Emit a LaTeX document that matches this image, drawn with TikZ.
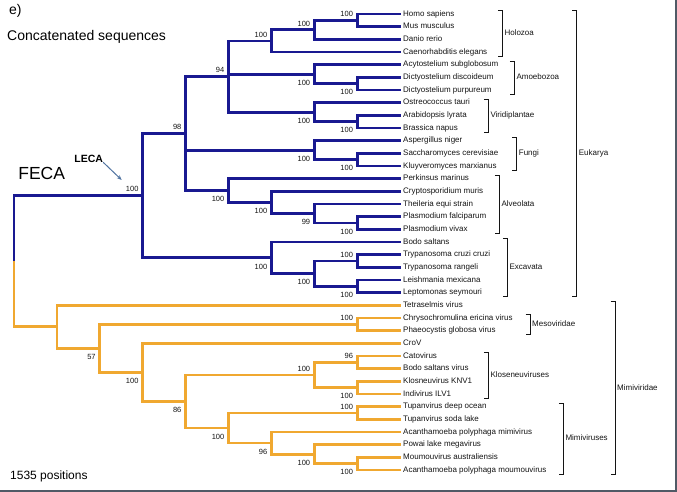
\documentclass[tikz,border=0pt]{standalone}
\usepackage{fontspec}
\setmainfont{Liberation Sans}
\usetikzlibrary{arrows.meta}
\definecolor{euk}{RGB}{25,25,145}
\definecolor{vir}{RGB}{240,168,48}
\definecolor{frm}{RGB}{80,90,102}
\definecolor{arr}{RGB}{80,115,160}
\definecolor{txt}{RGB}{20,20,20}
\newcommand\tedges[3]{\foreach \c in {#3}{\draw[#1] (#2) |- (\c);}}
\newcommand\cladebar[5]{%
  \draw[clade] (#1-4.5,#2) -- (#1,#2) -- (#1,#3) -- (#1-4.5,#3);
  \node[cladelbl] (#4) at (#1+2,{(#2+#3)/2}) {#5};}
\begin{document}
\begin{tikzpicture}[x=1pt,y=-1pt,
  br/.style={line width=2.8pt, line join=miter},
  eb/.style={br, draw=euk},
  vb/.style={br, draw=vir},
  leaf/.style={anchor=west, inner xsep=2.5pt, inner ysep=0pt, text height=6pt, text depth=1.8pt, font=\fontsize{8}{9}\selectfont, text=txt},
  bs/.style={inner sep=0pt, anchor=east, text height=5.4pt, text depth=0pt, font=\fontsize{7.5}{8}\selectfont, text=txt},
  ab/.style={bs, xshift=-4pt, yshift=6.5pt},
  bl/.style={bs, xshift=-4pt, yshift=-8.5pt},
  clade/.style={draw=txt, line width=0.9pt},
  cladelbl/.style={anchor=west, inner sep=0pt, text height=6pt, text depth=1.8pt, font=\fontsize{8}{9}\selectfont, text=txt}]
\useasboundingbox (0,0) rectangle (677,492);

% leaves
\foreach \i/\t in {0/Homo sapiens, 1/Mus musculus, 2/Danio rerio, 3/Caenorhabditis elegans,
  4/Acytostelium subglobosum, 5/Dictyostelium discoideum, 6/Dictyostelium purpureum,
  7/Ostreococcus tauri, 8/Arabidopsis lyrata, 9/Brassica napus,
  10/Aspergillus niger, 11/Saccharomyces cerevisiae, 12/Kluyveromyces marxianus,
  13/Perkinsus marinus, 14/Cryptosporidium muris, 15/Theileria equi strain, 16/Plasmodium falciparum, 17/Plasmodium vivax,
  18/Bodo saltans, 19/Trypanosoma cruzi cruzi, 20/Trypanosoma rangeli, 21/Leishmania mexicana, 22/Leptomonas seymouri,
  23/Tetraselmis virus, 24/Chrysochromulina ericina virus, 25/Phaeocystis globosa virus, 26/CroV,
  27/Catovirus, 28/Bodo saltans virus, 29/Klosneuvirus KNV1, 30/Indivirus ILV1,
  31/Tupanvirus deep ocean, 32/Tupanvirus soda lake, 33/Acanthamoeba polyphaga mimivirus,
  34/Powai lake megavirus, 35/Moumouvirus australiensis, 36/Acanthamoeba polyphaga moumouvirus}
  {\node[leaf] (l\i) at (400.5,{14+12.667*\i}) {\t};}

% internal nodes - Eukarya
\coordinate (HM) at (357.2,20.33);
\coordinate (HMD) at (314.3,29.83);
\coordinate (HOL) at (271.4,40.92);
\coordinate (DD) at (357.2,83.67);
\coordinate (AMO) at (314.3,74.17);
\coordinate (AB) at (357.2,121.67);
\coordinate (VIR) at (314.3,112.17);
\coordinate (N94) at (228.5,76.54);
\coordinate (SK) at (357.2,159.67);
\coordinate (FUN) at (314.3,150.17);
\coordinate (PP) at (357.2,223.0);
\coordinate (ALV7) at (314.3,213.5);
\coordinate (ALV6) at (271.4,202.42);
\coordinate (ALV5) at (228.5,190.54);
\coordinate (N98) at (185.6,133.54);
\coordinate (TT) at (357.2,261.0);
\coordinate (LL) at (357.2,286.33);
\coordinate (EX7) at (314.3,273.67);
\coordinate (EX6) at (271.4,257.83);
\coordinate (LECA) at (142.7,195.69);
% internal nodes - viruses
\coordinate (MES) at (357.2,324.33);
\coordinate (CB) at (357.2,362.33);
\coordinate (KI) at (357.2,387.67);
\coordinate (KLO) at (314.3,375.0);
\coordinate (TUP) at (357.2,413.0);
\coordinate (MM) at (357.2,463.67);
\coordinate (PMM) at (314.3,454.17);
\coordinate (N96b) at (271.4,443.08);
\coordinate (N100c) at (228.5,428.04);
\coordinate (N86) at (185.6,401.52);
\coordinate (N100d) at (142.7,372.43);
\coordinate (N57) at (99.8,348.38);
\coordinate (V1) at (56.9,326.86);
\coordinate (ROOT) at (14,261.27);

% branches - Eukarya
\tedges{eb}{HM}{l0.west,l1.west}
\tedges{eb}{HMD}{HM,l2.west}
\tedges{eb}{HOL}{HMD,l3.west}
\tedges{eb}{DD}{l5.west,l6.west}
\tedges{eb}{AMO}{l4.west,DD}
\tedges{eb}{AB}{l8.west,l9.west}
\tedges{eb}{VIR}{l7.west,AB}
\tedges{eb}{N94}{HOL,AMO,VIR}
\tedges{eb}{SK}{l11.west,l12.west}
\tedges{eb}{FUN}{l10.west,SK}
\tedges{eb}{PP}{l16.west,l17.west}
\tedges{eb}{ALV7}{l15.west,PP}
\tedges{eb}{ALV6}{l14.west,ALV7}
\tedges{eb}{ALV5}{l13.west,ALV6}
\tedges{eb}{N98}{N94,FUN,ALV5}
\tedges{eb}{TT}{l19.west,l20.west}
\tedges{eb}{LL}{l21.west,l22.west}
\tedges{eb}{EX7}{TT,LL}
\tedges{eb}{EX6}{l18.west,EX7}
\tedges{eb}{LECA}{N98,EX6}
\tedges{eb}{ROOT}{LECA}
% branches - viruses
\tedges{vb}{MES}{l24.west,l25.west}
\tedges{vb}{CB}{l27.west,l28.west}
\tedges{vb}{KI}{l29.west,l30.west}
\tedges{vb}{KLO}{CB,KI}
\tedges{vb}{TUP}{l31.west,l32.west}
\tedges{vb}{MM}{l35.west,l36.west}
\tedges{vb}{PMM}{l34.west,MM}
\tedges{vb}{N96b}{l33.west,PMM}
\tedges{vb}{N100c}{TUP,N96b}
\tedges{vb}{N86}{KLO,N100c}
\tedges{vb}{N100d}{l26.west,N86}
\tedges{vb}{N57}{MES,N100d}
\tedges{vb}{V1}{l23.west,N57}
\tedges{vb}{ROOT}{V1}

% bootstrap values
\node[ab] (bHM) at (HM) {100};
\node[ab] (bHMD) at (HMD) {100};
\node[ab] (bHOL) at (HOL) {100};
\node[bl] (bAMO) at (AMO) {100};
\node[bl] (bDD) at (DD) {100};
\node[bl] (bVIR) at (VIR) {100};
\node[bl] (bAB) at (AB) {100};
\node[ab] (bN94) at (N94) {94};
\node[bl] (bFUN) at (FUN) {100};
\node[bl] (bSK) at (SK) {100};
\node[ab] (bN98) at (N98) {98};
\node[bl] (bALV5) at (ALV5) {100};
\node[bl] (bALV6) at (ALV6) {100};
\node[bl] (bALV7) at (ALV7) {99};
\node[bl] (bPP) at (PP) {100};
\node[ab] (bLECA) at (LECA) {100};
\node[bl] (bEX6) at (EX6) {100};
\node[bl] (bEX7) at (EX7) {100};
\node[ab] (bTT) at (TT) {100};
\node[bl] (bLL) at (LL) {100};
\node[bl] (bN57) at (N57) {57};
\node[ab] (bMES) at (MES) {100};
\node[bl] (bN100d) at (N100d) {100};
\node[bl] (bN86) at (N86) {86};
\node[ab] (bKLO) at (KLO) {100};
\node[ab] (bCB) at (CB) {96};
\node[bl] (bKI) at (KI) {100};
\node[bl] (bN100c) at (N100c) {100};
\node[ab] (bTUP) at (TUP) {100};
\node[bl] (bN96b) at (N96b) {96};
\node[bl] (bPMM) at (PMM) {100};
\node[bl] (bMM) at (MM) {100};

% clade brackets
\cladebar{502.3}{10.5}{56.2}{cHol}{Holozoa}
\cladebar{514.3}{61.17}{94.2}{cAmo}{Amoebozoa}
\cladebar{488.3}{99.17}{132.2}{cVir}{Viridiplantae}
\cladebar{516.7}{137.17}{170.2}{cFun}{Fungi}
\cladebar{499.3}{175.17}{233.53}{cAlv}{Alveolata}
\cladebar{507.3}{238.5}{296.87}{cExc}{Excavata}
\cladebar{576.7}{10.5}{296.87}{cEuk}{Eukarya}
\cladebar{530}{314.5}{334.87}{cMes}{Mesoviridae}
\cladebar{488.3}{352.5}{398.2}{cKlo}{Kloseneuviruses}
\cladebar{563.3}{403.17}{474.2}{cMvs}{Mimiviruses}
\cladebar{615}{301.83}{474.2}{cMvd}{Mimiviridae}

% titles and annotations
\node[anchor=west, inner sep=0pt, text height=10pt, text depth=0pt, font=\fontsize{14}{16}\selectfont] (panel) at (9,10) {e)};
\node[anchor=west, inner sep=0pt, text height=10pt, text depth=0pt, font=\fontsize{14}{16}\selectfont] (title) at (7,36) {Concatenated sequences};
\node[anchor=west, inner sep=0pt, text height=8.6pt, text depth=0pt, font=\fontsize{12}{14}\selectfont] (pos) at (10,475) {1535 positions};
\node[inner sep=0pt, text height=12.6pt, text depth=0pt, font=\fontsize{17.5}{20}\selectfont] (feca) at (41.7,173.3) {FECA};
\node[inner sep=0pt, text height=7.6pt, text depth=0pt, font=\fontsize{10.5}{12}\selectfont\bfseries] (lecalbl) at (88.7,158.3) {LECA};
\coordinate (lecatip) at (121.7,180);
\draw[arr, line width=1pt, -{Stealth[length=5pt,width=4pt]}] (lecalbl.south east) -- (lecatip);

% frame
\draw[frm, line width=2.2pt] (675.6,0) -- (675.6,491) -- (0,491);
\end{tikzpicture}
\end{document}
